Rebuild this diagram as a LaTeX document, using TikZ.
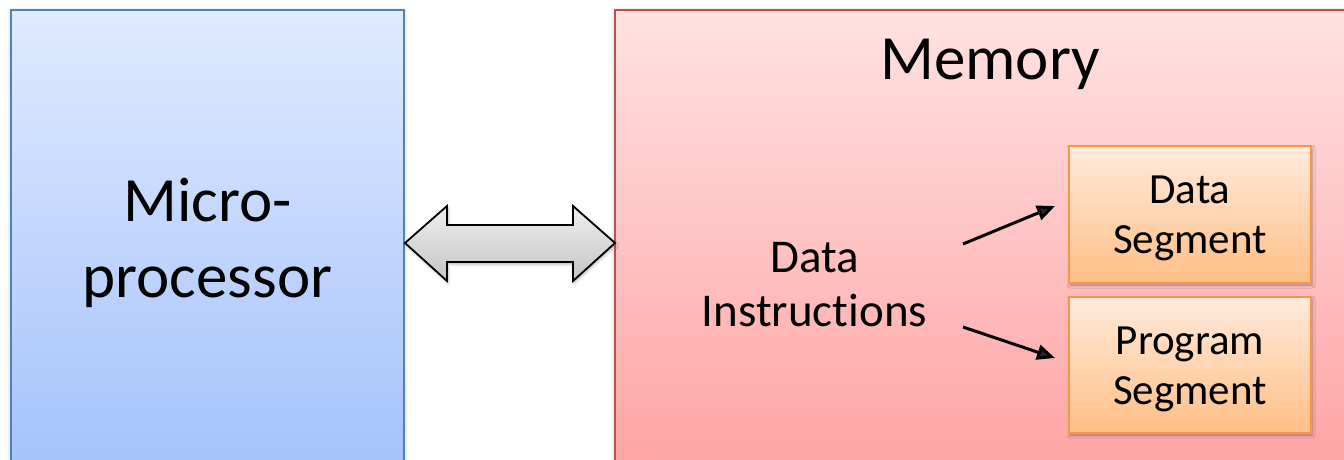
\documentclass[tikz,border=0pt]{standalone}
\usepackage{fontspec}
\setmainfont[RawFeature=-liga]{Carlito}
\usetikzlibrary{arrows.meta,shadows.blur}

\definecolor{cpuTop}{HTML}{DFEAFF}
\definecolor{cpuBot}{HTML}{A3C1FB}
\definecolor{cpuLine}{HTML}{4F81BD}
\definecolor{memTop}{HTML}{FFE2E2}
\definecolor{memBot}{HTML}{FFA2A2}
\definecolor{memLine}{HTML}{C0504D}
\definecolor{segTop}{HTML}{FFEADB}
\definecolor{segBot}{HTML}{FFBF86}
\definecolor{segLine}{HTML}{F79646}
\definecolor{busTop}{HTML}{EFEFEF}
\definecolor{busBot}{HTML}{C4C4C4}

\tikzset{
  panel/.style={line width=2pt, blur shadow={shadow xshift=0pt, shadow yshift=-1pt, shadow blur radius=4pt, shadow opacity=25}},
  cpubox/.style={panel, draw=cpuLine, top color=cpuTop, bottom color=cpuBot},
  membox/.style={panel, draw=memLine, top color=memTop, bottom color=memBot},
  segbox/.style={draw=segLine, line width=1.6pt, top color=segTop, bottom color=segBot,
    blur shadow={shadow xshift=1pt, shadow yshift=-2pt, shadow blur radius=3pt, shadow opacity=35}},
  % multi-line labels are anchored at the baseline of their last line
  bigtext/.style={font=\fontsize{63}{76}\selectfont, align=center, anchor=base},
  midtext/.style={font=\fontsize{47}{54}\selectfont, align=center, anchor=base},
  segtext/.style={font=\fontsize{43}{50}\selectfont, align=center, anchor=base},
  pointer/.style={line width=3pt, -{Triangle[length=18pt,width=15pt]}},
}

\begin{document}
\begin{tikzpicture}[x=1pt, y=-1pt]
  \useasboundingbox (0,0) rectangle (1344,460);

  % processor and memory panels (running off the lower and right edges)
  \path[cpubox] (11,10) rectangle (404,480);
  \path[membox] (615,10) rectangle (1370,480);

  % data segment and program segment boxes
  \path[segbox] (1069,146) rectangle (1311,283);
  \path[segbox] (1069,297) rectangle (1311,433);

  % bidirectional bus arrow between the panels
  \path[draw=black, line width=1.8pt, line join=miter, top color=busTop, bottom color=busBot,
        blur shadow={shadow xshift=1pt, shadow yshift=-2pt, shadow blur radius=3pt, shadow opacity=30}]
    (405,243) -- (447,206) -- (447,225) -- (573,225) -- (573,206) -- (615,243)
    -- (573,281) -- (573,262) -- (447,262) -- (447,281) -- cycle;

  % labels
  \node[bigtext] (cpu) at (207.5,297) {Micro-\\processor};
  \node[bigtext] (mem) at (990,79) {Memory};
  \node[midtext] (di) at (814.5,326) {Data\\Instructions};
  \node[segtext] (ds) at (1190,253) {Data\\Segment};
  \node[segtext] (ps) at (1190,404) {Program\\Segment};

  % pointers from the contents to the segments
  \coordinate (dataFrom) at (963,244);
  \coordinate (dataTo) at (1055,206);
  \coordinate (progFrom) at (963,327);
  \coordinate (progTo) at (1055,358);
  \draw[pointer] (dataFrom) -- (dataTo);
  \draw[pointer] (progFrom) -- (progTo);
\end{tikzpicture}
\end{document}
